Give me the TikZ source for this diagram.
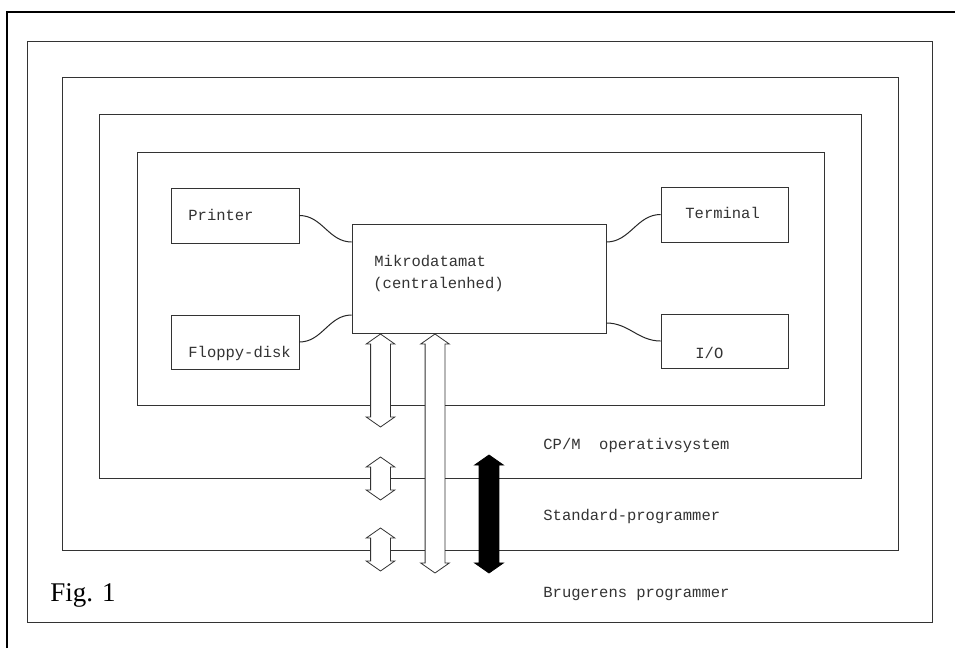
\documentclass[tikz,border=0pt]{standalone}
\usepackage{fontspec}
\setmainfont{Liberation Serif}
\setmonofont{Liberation Mono}
\usetikzlibrary{shapes.arrows}
\begin{document}
\begin{tikzpicture}[x=1pt, y=-1pt, line width=0.8pt,
  layer/.style={draw=black!80},
  unit/.style={draw=black!80, rectangle, inner sep=0pt},
  tw/.style={font=\ttfamily\fontsize{15.5}{18}\selectfont, text=black!80, inner sep=0pt, anchor=base west},
  link/.style={draw=black!85, line width=1pt},
  bus/.style={double arrow, rotate=90, draw=black!80, fill=white, inner xsep=0pt, inner ysep=9.5pt,
    double arrow head extend=4.5pt, double arrow tip angle=110}]
  \useasboundingbox[fill=white] (0,0) rectangle (955,648);
  \draw[line width=2.2pt] (7,648) -- (7,12) -- (955,12);
  \draw[layer] (27,41) rectangle (932,622);
  \draw[layer] (62,77) rectangle (898,550);
  \draw[layer] (99,114) rectangle (861,478);
  \draw[layer] (137,152) rectangle (824,405);
  \node[unit, minimum width=128pt, minimum height=55pt] (printer) at (235,215.5) {};
  \node[unit, minimum width=128pt, minimum height=54pt] (floppy) at (235,342) {};
  \node[unit, minimum width=254pt, minimum height=109pt] (mikro) at (479,278.5) {};
  \node[unit, minimum width=127pt, minimum height=55pt] (terminal) at (724.5,214.5) {};
  \node[unit, minimum width=127pt, minimum height=54pt] (io) at (724.5,341) {};
  \node[tw] (printer-txt) at (188,220) {Printer};
  \node[tw] (floppy-txt) at (188,357) {Floppy-disk};
  \node[tw] (mikro-txt) at (374,266) {Mikrodatamat};
  \node[tw] (mikro-sub) at (373,288) {(centralenhed)};
  \node[tw] (terminal-txt) at (685,218) {Terminal};
  \node[tw] (io-txt) at (695,358) {I/O};
  \draw[link] (printer.east) to[out=0, in=180] ([yshift=36.5pt]mikro.west);
  \draw[link] (floppy.east) to[out=0, in=180] ([yshift=-36.5pt]mikro.west);
  \draw[link] ([yshift=36.5pt]mikro.east) to[out=0, in=180] (terminal.west);
  \draw[link] ([yshift=-44.5pt]mikro.east) to[out=0, in=180] (io.west);
  \node[bus, minimum height=93pt] (bus-os) at (380.5,380.5) {};
  \node[bus, minimum height=43pt] (bus-std) at (380.5,478.5) {};
  \node[bus, minimum height=43pt] (bus-usr) at (380.5,549.5) {};
  \node[bus, minimum height=239pt] (bus-long) at (435,453.5) {};
  \node[bus, minimum height=118pt, fill=black, draw=black] (bus-black) at (489,514) {};
  \node[tw] (os-txt) at (543,449) {CP/M\ \ operativsystem};
  \node[tw] (std-txt) at (543,520) {Standard-programmer};
  \node[tw] (usr-txt) at (543,597) {Brugerens programmer};
  \node[font=\fontsize{27}{30}\selectfont, inner sep=0pt, anchor=base west] (fig) at (50,601) {Fig. 1};
\end{tikzpicture}
\end{document}
